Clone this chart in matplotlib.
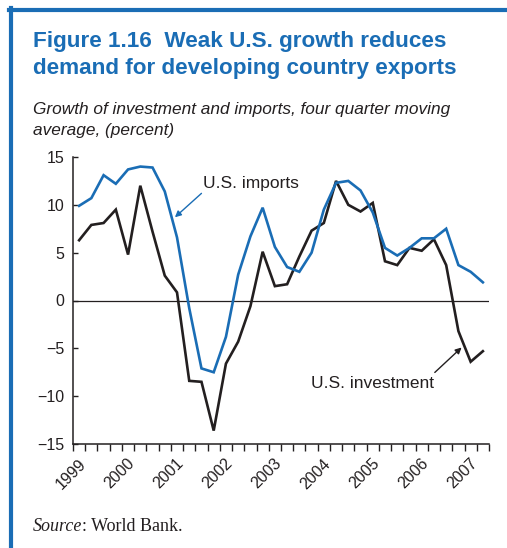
import numpy as np
import matplotlib
matplotlib.use('Agg')
import matplotlib.pyplot as plt
from matplotlib.lines import Line2D

# quarterly data, 1999Q1 .. 2007Q2, four quarter moving average (percent)
years = ['1999', '2000', '2001', '2002', '2003', '2004', '2005', '2006', '2007']
us_imports = [9.9, 10.7, 13.1, 12.2, 13.7, 14.0, 13.9, 11.4,
              6.6, -0.8, -7.1, -7.5, -3.8, 2.7, 6.7, 9.7,
              5.6, 3.5, 3.0, 5.0, 9.5, 12.3, 12.5, 11.5,
              9.2, 5.5, 4.7, 5.5, 6.5, 6.5, 7.5, 3.7,
              3.0, 1.9]
us_investment = [6.3, 7.9, 8.1, 9.5, 4.8, 12.0, 7.2, 2.6,
                 0.85, -8.4, -8.5, -13.6, -6.6, -4.3, -0.6, 5.1,
                 1.5, 1.7, 4.6, 7.3, 8.1, 12.5, 10.0, 9.3,
                 10.2, 4.1, 3.7, 5.5, 5.2, 6.4, 3.7, -3.2,
                 -6.4, -5.3]

blue = '#1a6db5'
dark = '#231f20'
W, H = 507, 548

plt.rcParams['font.family'] = ['Liberation Sans', 'DejaVu Sans']
fig = plt.figure(figsize=(W / 100, H / 100), dpi=100, facecolor='w')


def fx(x):
    return x / W


def fy(y):
    return 1 - y / H


# blue frame on left and top
fig.add_artist(Line2D([fx(11.3), fx(11.3)], [fy(8.3), fy(H)], color=blue, lw=3))
fig.add_artist(Line2D([fx(9.3), fx(W)], [fy(10.3), fy(10.3)], color=blue, lw=3))

fig.text(fx(33), fy(46.7), 'Figure 1.16  Weak U.S. growth reduces', color=blue,
         fontsize=16.2, fontweight='bold', va='baseline')
fig.text(fx(33), fy(74), 'demand for developing country exports', color=blue,
         fontsize=16.2, fontweight='bold', va='baseline')
fig.text(fx(33), fy(114.3), 'Growth of investment and imports, four quarter moving',
         color=dark, fontsize=12.4, style='italic', va='baseline')
fig.text(fx(33), fy(135), 'average, (percent)', color=dark, fontsize=12.4,
         style='italic', va='baseline')
src = fig.text(fx(33), fy(531), 'Source', family=['Liberation Serif'], style='italic',
               fontsize=13, color=dark, va='baseline')
fig.canvas.draw()
sx = src.get_window_extent().x1
fig.text(sx / W, fy(531), ': World Bank.', family=['Liberation Serif'],
         fontsize=13, color=dark, va='baseline')

ax = fig.add_axes([fx(73), fy(444), fx(489) - fx(73), fy(157) - fy(444)])
x = np.arange(len(us_imports))
ax.plot(x, us_investment, color=dark, lw=1.9, solid_joinstyle='miter')
ax.plot(x, us_imports, color=blue, lw=1.9, solid_joinstyle='miter')
ax.axhline(0, color=dark, lw=0.9, zorder=0)

ax.set_xlim(-0.5, len(us_imports) - 0.5)
ax.set_ylim(-15, 15)
ax.set_yticks([-15, -10, -5, 0, 5, 10, 15])
ax.set_yticklabels(['\u221215', '\u221210', '\u22125', '0', '5', '10', '15'])
ax.tick_params(axis='y', direction='in', length=3.5, width=1, pad=6,
               labelsize=11.5, labelcolor=dark, color=dark)
ax.set_xticks(np.arange(-0.5, len(us_imports) + 0.5, 1))
ax.set_xticklabels([])
ax.tick_params(axis='x', direction='out', length=5, width=1, color=dark)
for i, yr in enumerate(years):
    ax.text(4 * i + 0.35, -16.8, yr, rotation=45, rotation_mode='anchor',
            ha='right', va='center', fontsize=11.5, color=dark)

for s in ['top', 'right']:
    ax.spines[s].set_visible(False)
for s in ['left', 'bottom']:
    ax.spines[s].set_linewidth(1.1)
    ax.spines[s].set_color(dark)

ax.text(10.15, 11.75, 'U.S. imports', fontsize=12.5, color=dark, va='baseline')
ax.annotate('', xy=(7.83, 8.7), xytext=(10.0, 11.2),
            arrowprops=dict(arrowstyle='-|>', color=blue, lw=1,
                            mutation_scale=9, shrinkA=0, shrinkB=0))
ax.text(18.95, -9.15, 'U.S. investment', fontsize=12.5, color=dark, va='baseline')
ax.annotate('', xy=(31.26, -4.91), xytext=(29.07, -7.52),
            arrowprops=dict(arrowstyle='-|>', color=dark, lw=1,
                            mutation_scale=9, shrinkA=0, shrinkB=0))

fig.savefig('out.png', dpi=100, facecolor='w')
